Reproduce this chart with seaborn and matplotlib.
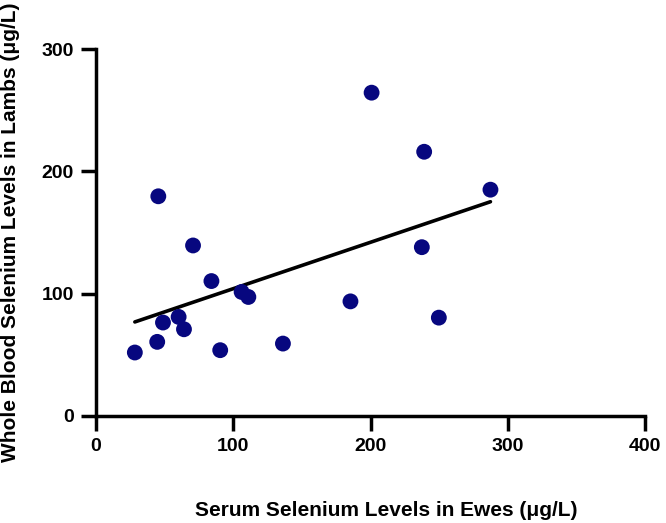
import matplotlib
matplotlib.use("Agg")
import matplotlib.pyplot as plt
import seaborn as sns
import pandas as pd

# Serum Se in ewes (x) vs whole blood Se in lambs (y), µg/L
ewes = [45.4, 70.7, 84.1, 106.1, 111.0, 60.2, 48.8, 64.1, 44.6, 28.3, 90.5,
        200.8, 239.1, 287.4, 237.4, 185.4, 249.8, 136.2]
lambs = [179.6, 139.4, 110.3, 101.4, 97.3, 81.0, 76.4, 70.9, 60.6, 51.9, 53.8,
         264.3, 216.0, 185.0, 138.0, 93.7, 80.4, 59.2]

xticks = [0, 100, 200, 300, 400]
yticks = [0, 100, 200, 300]

df = pd.DataFrame({"ewes": ewes, "lambs": lambs})

sns.set_theme(style="ticks")
plt.rcParams["font.family"] = ["Liberation Sans", "DejaVu Sans"]
plt.rcParams["font.weight"] = "bold"
plt.rcParams["text.color"] = "black"
plt.rcParams["axes.labelcolor"] = "black"
plt.rcParams["xtick.color"] = "black"
plt.rcParams["ytick.color"] = "black"

fig = plt.figure(figsize=(6.66, 5.23), dpi=100)
ax = fig.add_axes([96 / 666, 1 - 416 / 523, 549 / 666, 367 / 523])

sns.regplot(data=df, x="ewes", y="lambs", ax=ax, ci=None, truncate=True,
            scatter_kws=dict(s=130, color="#07077F", edgecolor="none", alpha=1, zorder=3),
            line_kws=dict(color="black", lw=2.6, zorder=2))

ax.set_xlim(0, 400)
ax.set_ylim(0, 300)
ax.set_xticks(xticks)
ax.set_yticks(yticks)
ax.set_xticklabels([str(t) for t in xticks], fontsize=14, fontweight="bold")
ax.set_yticklabels([str(t) for t in yticks], fontsize=14, fontweight="bold")
ax.tick_params(axis="both", length=11, width=2.5, color="black", labelcolor="black", pad=5)

for side in ["top", "right"]:
    ax.spines[side].set_visible(False)
for side in ["left", "bottom"]:
    ax.spines[side].set_linewidth(2.5)
    ax.spines[side].set_color("black")
ax.spines["left"].set_bounds(0, 300)
ax.spines["bottom"].set_bounds(0, 400)

ax.set_xlabel("Serum Selenium Levels in Ewes (\u03bcg/L)", fontsize=15, fontweight="bold", color="black")
ax.set_ylabel("Whole Blood Selenium Levels in Lambs (\u03bcg/L)", fontsize=15, fontweight="bold", color="black")
ax.xaxis.set_label_coords(0.528, -0.257)
ax.yaxis.set_label_coords(-0.155, 0.5)
ax.xaxis.label.set_va("center")
ax.yaxis.label.set_va("center")

fig.savefig("out.png", dpi=100)
